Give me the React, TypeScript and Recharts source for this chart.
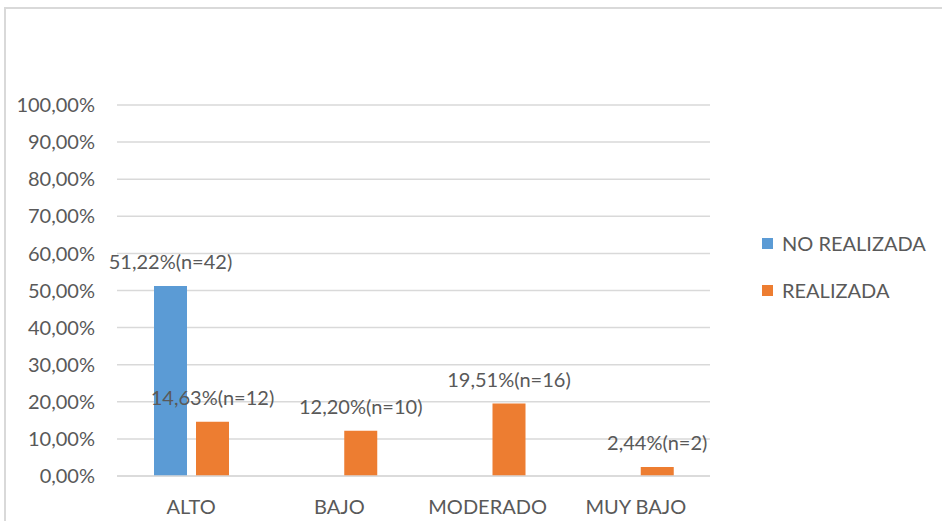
import React from "react";
import { BarChart, Bar, XAxis, YAxis, CartesianGrid, LabelList } from "recharts";

const categories = ["ALTO", "BAJO", "MODERADO", "MUY BAJO"];
const noRealizada: (number | null)[] = [51.22, null, null, null];
const noRealizadaN: (number | null)[] = [42, null, null, null];
const realizada = [14.63, 12.2, 19.51, 2.44];
const realizadaN = [12, 10, 16, 2];
const yTicks = [0, 10, 20, 30, 40, 50, 60, 70, 80, 90, 100];

const BLUE = "#5B9BD5";
const ORANGE = "#ED7D31";
const TEXT = "#595959";
const GRID = "#d9d9d9";
const FONT = "Lato, 'Liberation Sans', sans-serif";
const FS = 20;

const data = categories.map((c, i) => ({
  cat: c,
  no: noRealizada[i],
  noN: noRealizadaN[i],
  si: realizada[i],
  siN: realizadaN[i],
}));

const pct = (v: number) => v.toFixed(2).replace(".", ",") + "%";

function makeLabel(nKey: "noN" | "siN") {
  return (props: any) => {
    const { x, y, width, value, index } = props;
    if (value == null) return null;
    const n = data[index][nKey];
    return (
      <text
        x={x + width / 2}
        y={y - 25}
        textAnchor="middle"
        dominantBaseline="central"
        fill={TEXT}
        fontSize={FS}
        fontFamily={FONT}
      >
        {pct(value)}(n={n})
      </text>
    );
  };
}

export default function App() {
  return (
    <div style={{ position: "absolute", left: 0, top: 0, width: 942, height: 521, background: "#fff" }}>
      <div
        style={{
          position: "absolute",
          left: 4,
          top: 7,
          right: 0,
          bottom: 0,
          borderTop: `2px solid ${GRID}`,
          borderLeft: `2px solid ${GRID}`,
        }}
      />
      <div style={{ position: "absolute", left: 0, top: 0 }}>
        <BarChart
          width={942}
          height={521}
          data={data}
          margin={{ top: 105, right: 232, bottom: 15, left: 7 }}
          barSize={33}
          barGap={9}
        >
          <CartesianGrid vertical={false} stroke={GRID} strokeWidth={1.5} />
          <XAxis
            dataKey="cat"
            axisLine={{ stroke: GRID, strokeWidth: 1.5 }}
            tickLine={false}
            tickMargin={18}
            tick={{ fill: TEXT, fontSize: FS, fontFamily: FONT }}
            interval={0}
          />
          <YAxis
            width={110}
            domain={[0, 100]}
            ticks={yTicks}
            tickFormatter={pct}
            axisLine={false}
            tickLine={false}
            tickMargin={16}
            tick={{ fill: TEXT, fontSize: FS, fontFamily: FONT }}
            interval={0}
          />
          <Bar dataKey="no" fill={BLUE} isAnimationActive={false}>
            <LabelList dataKey="no" content={makeLabel("noN")} />
          </Bar>
          <Bar dataKey="si" fill={ORANGE} isAnimationActive={false}>
            <LabelList dataKey="si" content={makeLabel("siN")} />
          </Bar>
        </BarChart>
      </div>
      {[
        { name: "NO REALIZADA", color: BLUE, y: 243 },
        { name: "REALIZADA", color: ORANGE, y: 290 },
      ].map((it) => (
        <div
          key={it.name}
          style={{
            position: "absolute",
            left: 762,
            top: it.y - 12,
            height: 24,
            display: "flex",
            alignItems: "center",
            fontFamily: FONT,
            fontSize: FS,
            color: TEXT,
            whiteSpace: "nowrap",
          }}
        >
          <span style={{ display: "inline-block", width: 11, height: 11, background: it.color, marginRight: 9 }} />
          {it.name}
        </div>
      ))}
    </div>
  );
}
